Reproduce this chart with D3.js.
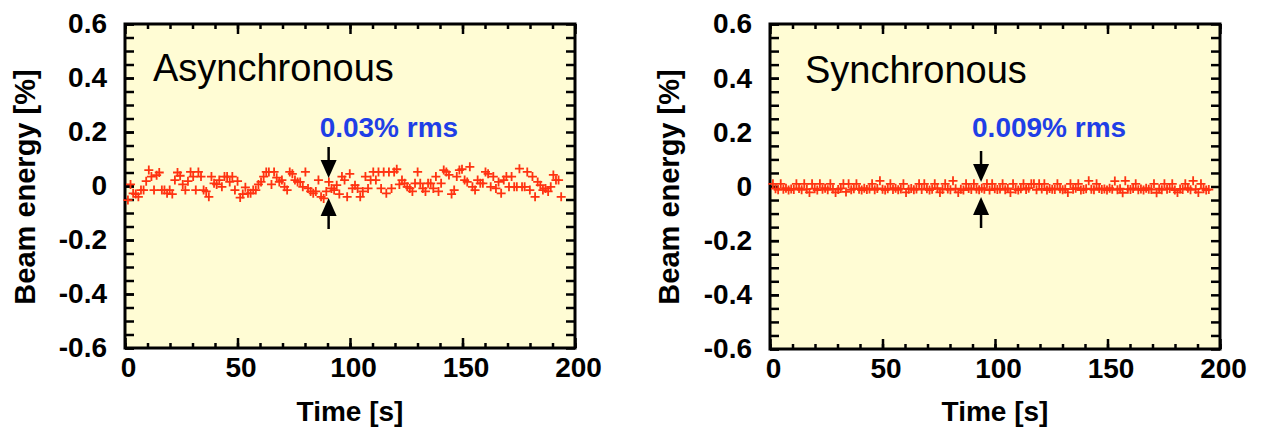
<!DOCTYPE html>
<html>
<head>
<meta charset="utf-8">
<script src="https://cdn.jsdelivr.net/npm/d3@7"></script>
<style>
  body { margin: 0; background: #fff; }
  svg { display: block; font-family: "Liberation Sans", Arial, Helvetica, sans-serif; }
</style>
</head>
<body>
<svg id="chart" width="1262" height="429"></svg>
<script>
// beam energy deviation [%], one reading per sample
const asyncEnergy = [
  -0.052, 0.006, -0.027, -0.030, -0.040, -0.015, -0.015, 0.018, 0.059, 0.035,
  -0.015, 0.040, 0.050, -0.015, -0.015, -0.027, -0.015, -0.030, 0.022, 0.050,
  0.038, 0.006, -0.015, 0.018, 0.052, 0.035, -0.015, 0.052, 0.035, -0.015,
  -0.020, -0.040, 0.035, 0.010, 0.006, 0.022, -0.003, 0.035, 0.035, 0.015,
  0.035, -0.015, 0.018, -0.043, -0.030, -0.005, -0.027, -0.027, -0.015, -0.015,
  0.006, 0.015, 0.035, 0.052, 0.052, 0.006, 0.052,
  0.031, 0.015, 0.022, -0.003, -0.015, 0.052, 0.045, 0.022, 0.015,
  0.015, -0.003, 0.052, -0.009, -0.020, -0.027, -0.020, 0.022, -0.040, -0.046,
  -0.020, 0.015, -0.009, -0.015, 0.003, -0.030, 0.035, 0.022, -0.040, 0.045,
  -0.009, 0.003, -0.009, -0.040, -0.020, 0.035, -0.009, 0.022, 0.052, 0.022,
  0.052, -0.009, 0.052, -0.027, 0.052, -0.009, 0.052, 0.062, 0.006, 0.022,
  0.010, -0.003, -0.009,
  -0.020, 0.010, 0.052, 0.010, -0.009, -0.020, 0.010, 0.010, -0.009, 0.035,
  -0.020, 0.010, 0.059, 0.052, 0.041, -0.030, -0.015, 0.035, 0.059, 0.062,
  0.022, 0.015, 0.071, -0.003, -0.015, 0.022, 0.010, 0.010, 0.052, 0.045,
  -0.003, 0.035, -0.009, 0.015, -0.027, 0.022, 0.035, -0.003, 0.035, -0.003,
  -0.003, 0.064, -0.003, -0.003, 0.052, -0.015, 0.035, -0.040, 0.015, 0.003,
  -0.015, -0.009, -0.020, -0.003, 0.041, 0.022, 0.022, -0.040
];
const syncEnergy = [
  0.010, -0.008, -0.012, 0.010, -0.010, -0.006, -0.013, -0.009, -0.011, 0.010,
  -0.007, -0.012, 0.010, -0.010, -0.022, 0.010, -0.008, -0.013, 0.010, -0.010,
  -0.006, -0.012, 0.010, -0.009, -0.022, -0.011, -0.007, 0.010, -0.020, 0.010,
  -0.012, -0.008, 0.010, -0.010, -0.013, -0.006, -0.011, -0.009, 0.010, -0.012,
  -0.007, 0.021, -0.010, -0.013, -0.008, 0.010, -0.011, -0.006, -0.012, -0.009,
  0.010, -0.022, -0.010, -0.007, -0.012, -0.009, 0.010, -0.011, 0.010, -0.008,
  -0.013, -0.010, 0.010, -0.006, -0.022, -0.011, 0.010, -0.009, -0.012, 0.021,
  -0.008, -0.022, -0.010, -0.013, 0.010, -0.007, -0.011, 0.010, -0.009, -0.012,
  -0.006, -0.010, 0.010, -0.013, 0.010, -0.008, -0.011, -0.009, 0.010, -0.012,
  -0.007, -0.022, 0.010, -0.010, -0.013, -0.008, 0.010, -0.011, -0.006, 0.010,
  0.010, -0.012, 0.010, -0.009, 0.010, -0.013, -0.007, -0.010, -0.011, 0.010,
  -0.008, -0.012, -0.009, -0.022, 0.010, -0.010, -0.006, 0.010, -0.013, -0.011,
  -0.008, 0.021, -0.010, -0.012, 0.010, -0.007, -0.011, -0.009, -0.013, -0.006,
  -0.010, 0.020, -0.012, -0.008, -0.023, 0.021, -0.010, -0.011, -0.007, 0.010,
  -0.012, -0.009, -0.013, -0.006, -0.010, -0.011, 0.010, -0.023, -0.008, -0.012,
  0.010, -0.010, -0.007, 0.010, -0.013, -0.022, -0.009, -0.011, 0.010, -0.006,
  -0.012, 0.021, -0.010, -0.022, 0.010, -0.008, -0.013, -0.011
];
const sampleStart = 1.3;   // s
const sampleStep = 1.16;   // s between readings

const panelTitles = ["Asynchronous", "Synchronous"];
const rmsLabels = ["0.03% rms", "0.009% rms"];
const rmsMarkTime = [90.5, 93.8];
const yTickLabels = [-0.6, -0.4, -0.2, 0, 0.2, 0.4, 0.6];
const xTickLabels = [0, 50, 100, 150, 200];

const FONT = '"Liberation Sans", Arial, Helvetica, sans-serif';

const panels = [
  { left: 125, top: 24, width: 450, height: 324, data: asyncEnergy, titleDx: 28, titleY: 81,
    arrowCenter: 188, arrowGap: 10, yLabelX: 35 },
  { left: 770, top: 24, width: 450, height: 325, data: syncEnergy, titleDx: 35, titleY: 83,
    arrowCenter: 189.5, arrowGap: 7.5, yLabelX: 679 }
];

const svg = d3.select("#chart");

panels.forEach((p, i) => {
  const g = svg.append("g").attr("transform", `translate(${p.left},${p.top})`);

  const x = d3.scaleLinear().domain([0, 200]).range([0, p.width]);
  const y = d3.scaleLinear().domain([-0.6, 0.6]).range([p.height, 0]);

  g.append("rect")
    .attr("width", p.width)
    .attr("height", p.height)
    .attr("fill", "#fffcd4");

  const minorY = d3.range(-12, 13).map(k => k * 0.05);
  const minorX = d3.range(0, 21).map(k => k * 10);

  // minor ticks, all four sides, pointing inward
  g.append("g").call(d3.axisLeft(y).tickValues(minorY).tickSize(-9).tickFormat(""));
  g.append("g").attr("transform", `translate(${p.width},0)`)
    .call(d3.axisRight(y).tickValues(minorY).tickSize(-9).tickFormat(""));
  g.append("g").attr("transform", `translate(0,${p.height})`)
    .call(d3.axisBottom(x).tickValues(minorX).tickSize(-5).tickFormat(""));
  g.append("g")
    .call(d3.axisTop(x).tickValues(minorX).tickSize(-5).tickFormat(""));
  g.append("g")
    .call(d3.axisTop(x).tickValues(xTickLabels).tickSize(-10).tickFormat(""));

  // labelled ticks
  g.append("g")
    .attr("class", "ylab")
    .call(d3.axisLeft(y).tickValues(yTickLabels).tickSize(-9).tickPadding(18)
      .tickFormat(d => d === 0 ? "0" : d.toFixed(1)));
  g.append("g")
    .attr("class", "xlab")
    .attr("transform", `translate(0,${p.height})`)
    .call(d3.axisBottom(x).tickValues(xTickLabels).tickSize(-10).tickPadding(9));

  g.selectAll(".domain").remove();
  g.selectAll(".tick line").attr("stroke", "#000").attr("stroke-width", 2.5);
  g.selectAll(".tick text")
    .attr("fill", "#000")
    .attr("font-family", FONT)
    .style("font-size", "28px")
    .style("font-weight", "bold");
  g.selectAll(".xlab .tick text").attr("dx", 3);

  g.append("rect")
    .attr("width", p.width)
    .attr("height", p.height)
    .attr("fill", "none")
    .attr("stroke", "#000")
    .attr("stroke-width", 3);

  // readings
  g.append("g")
    .selectAll("path")
    .data(p.data)
    .join("path")
    .attr("transform", (d, k) => `translate(${x(sampleStart + k * sampleStep)},${y(d)})`)
    .attr("d", "M-4.5,0H4.5M0,-4.5V4.5")
    .attr("stroke", "#ff3311")
    .attr("stroke-width", 1.8)
    .attr("fill", "none");

  g.append("text")
    .attr("x", p.titleDx)
    .attr("y", p.titleY - p.top)
    .style("font-size", "38px")
    .text(panelTitles[i]);

  // rms marker arrows
  const ax = x(rmsMarkTime[i]);
  const c = p.arrowCenter - p.top;
  const len = 31, head = 18, hw = 8;
  [-1, 1].forEach(s => {
    const tip = c + s * p.arrowGap;
    const tail = tip + s * len;
    const base = tip + s * head;
    g.append("line")
      .attr("x1", ax).attr("x2", ax)
      .attr("y1", tail).attr("y2", base)
      .attr("stroke", "#000").attr("stroke-width", 2.5);
    g.append("path")
      .attr("d", `M${ax},${tip}L${ax - hw},${base}L${ax + hw},${base}Z`)
      .attr("fill", "#000");
  });

  g.append("text")
    .attr("x", ax - 9)
    .attr("y", 137 - p.top)
    .attr("fill", "#1f3fe6")
    .style("font-size", "28px")
    .style("font-weight", "bold")
    .text(rmsLabels[i]);

  g.append("text")
    .attr("x", p.width / 2)
    .attr("y", 421 - p.top)
    .attr("text-anchor", "middle")
    .style("font-size", "28px")
    .style("font-weight", "bold")
    .text("Time [s]");

  g.append("text")
    .attr("transform", `translate(${p.yLabelX - p.left},${187 - p.top}) rotate(-90)`)
    .attr("text-anchor", "middle")
    .style("font-size", "29px")
    .style("font-weight", "bold")
    .text("Beam energy [%]");
});
</script>
</body>
</html>
